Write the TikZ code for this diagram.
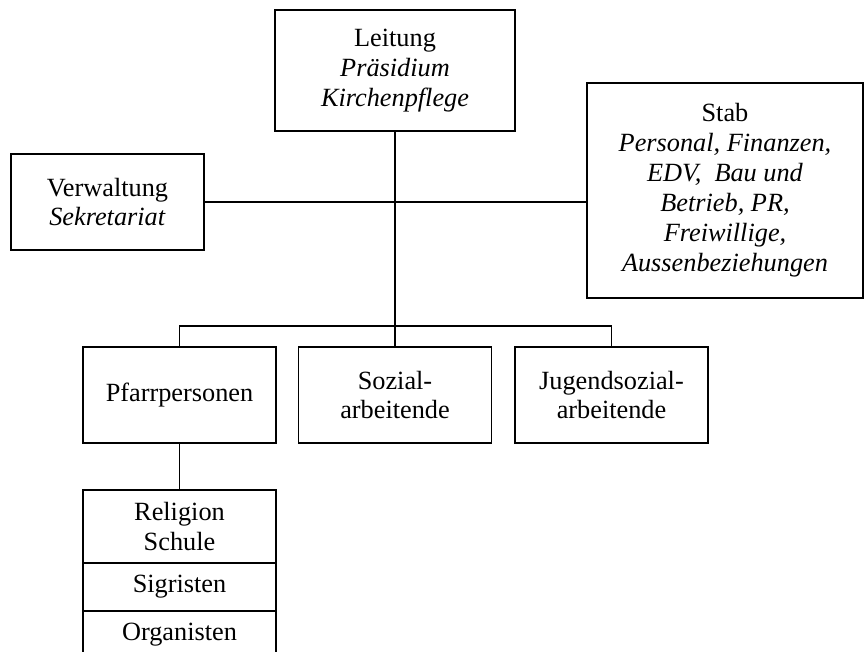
\documentclass[tikz,border=0pt]{standalone}
\usepackage{fontspec}
\setmainfont{Liberation Serif}
\usetikzlibrary{positioning}

\begin{document}
\begin{tikzpicture}
	[x=0.025cm, y=-0.025cm, line width=1pt, node distance=0cm,
	org box/.style={rectangle, draw, align=center, inner sep=2pt, font=\fontsize{18.7}{21.3}\selectfont, minimum width=4.825cm, minimum height=2.4cm},
	sub box/.style={org box, outer sep=0pt, minimum height=1.2cm}]
	\useasboundingbox (0,0) rectangle (864,652);
	%\begin{scope}
	\node (Leitung) [org box, minimum width=6cm, minimum height=3.025cm] at (395,70.5) {Leitung\\\textit{Präsidium}\\\textit{Kirchenpflege}};
	\node (Verw) [org box] at (107.5,202) {Verwaltung\\\textit{Sekretariat}};
	\node (Stab) [org box, minimum width=6.9cm, minimum height=5.375cm] at (725,190.5) {Stab\\\textit{Personal, Finanzen,}\\\textit{EDV,\ \ Bau und}\\\textit{Betrieb, PR,}\\\textit{Freiwillige,}\\\textit{Aussenbeziehungen}};
	\node (Pfarr) [org box] at (179.5,395) {Pfarrpersonen};
	\node (Sozial) [org box] at (395,395) {Sozial-\\arbeitende};
	\node (Jugend) [org box] at (611.5,395) {Jugendsozial-\\arbeitende};
	\node (Religion) [sub box, minimum height=1.825cm] at (179.5,526.5) {Religion\\Schule};
	\node (Sigristen) [sub box, below = of Religion] {Sigristen};
	\node (Organisten) [sub box, below = of Sigristen] {Organisten};
	\coordinate (bus) at (395,326);
	\draw (Leitung.south) -- (bus);
	\draw (Verw.east) -- (Verw.east -| Stab.west);
	\draw (Pfarr.north) |- (bus) -| (Jugend.north);
	\draw (bus) -- (Sozial.north);
	\draw (Pfarr.south) -- (Religion.north);
\end{tikzpicture}
\end{document}
